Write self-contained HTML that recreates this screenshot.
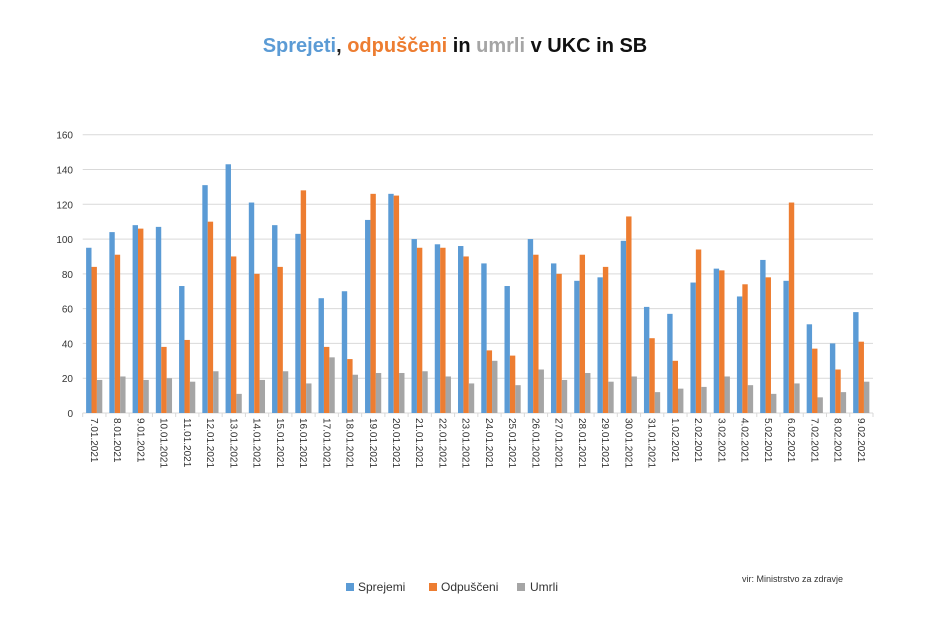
<!DOCTYPE html>
<html><head><meta charset="utf-8"><style>
body{margin:0;background:#fff;}
svg text{font-family:"Liberation Sans","DejaVu Sans",sans-serif;}
</style></head><body>
<svg id="c" width="940" height="627" xmlns="http://www.w3.org/2000/svg">
<rect width="940" height="627" fill="#fff"/>
<text x="455" y="52" text-anchor="middle" font-size="20" font-weight="bold"><tspan fill="#5b9bd5">Sprejeti</tspan><tspan fill="#222">, </tspan><tspan fill="#ed7d31">odpuščeni</tspan><tspan fill="#111"> in </tspan><tspan fill="#a5a5a5">umrli</tspan><tspan fill="#111"> v UKC in SB</tspan></text>
<g id="g"></g>
<rect x="346" y="583" width="8" height="8" fill="#5b9bd5"/><text x="358" y="591" font-size="12" fill="#333">Sprejemi</text>
<rect x="429" y="583" width="8" height="8" fill="#ed7d31"/><text x="441" y="591" font-size="12" fill="#333">Odpuščeni</text>
<rect x="517" y="583" width="8" height="8" fill="#a5a5a5"/><text x="530" y="591" font-size="12" fill="#333">Umrli</text>
<text x="742" y="582" font-size="9" fill="#333">vir: Ministrstvo za zdravje</text>
</svg>
<script>
var S=[95,104,108,107,73,131,143,121,108,103,66,70,111,126,100,97,96,86,73,100,86,76,78,99,61,57,75,83,67,88,76,51,40,58];
var O=[84,91,106,38,42,110,90,80,84,128,38,31,126,125,95,95,90,36,33,91,80,91,84,113,43,30,94,82,74,78,121,37,25,41];
var U=[19,21,19,20,18,24,11,19,24,17,32,22,23,23,24,21,17,30,16,25,19,23,18,21,12,14,15,21,16,11,17,9,12,18];
var L=[];for(var d=7;d<=31;d++)L.push(d+".01.2021");for(var d=1;d<=9;d++)L.push(d+".02.2021");
var x0=82.7,x1=873,y0=413,k=(413-134.7)/160,st=(x1-x0)/34,h="";
for(var v=0;v<=160;v+=20){var y=y0-v*k;if(v>0)h+='<line x1="'+x0+'" x2="'+x1+'" y1="'+y+'" y2="'+y+'" stroke="#d9d9d9" stroke-width="1"/>';h+='<text x="73" y="'+(y+4)+'" text-anchor="end" font-size="10" fill="#333">'+v+'</text>';}
h+='<line x1="'+x0+'" x2="'+x1+'" y1="'+y0+'" y2="'+y0+'" stroke="#d9d9d9"/>';
var C=["#5b9bd5","#ed7d31","#a5a5a5"],D=[S,O,U];
for(var i=0;i<34;i++){var gx=x0+i*st;h+='<line x1="'+gx+'" x2="'+gx+'" y1="'+y0+'" y2="'+(y0+4)+'" stroke="#d9d9d9"/>';
for(var j=0;j<3;j++){var v=D[j][i]*k;h+='<rect x="'+(gx+3.4+j*5.4)+'" y="'+(y0-v)+'" width="5.4" height="'+v+'" fill="'+C[j]+'"/>';}
var cx=gx+st/2;h+='<text transform="translate('+(cx-3.5)+',418) rotate(90)" font-size="10" fill="#333">'+L[i]+'</text>';}
h+='<line x1="'+x1+'" x2="'+x1+'" y1="'+y0+'" y2="'+(y0+4)+'" stroke="#d9d9d9"/>';
document.getElementById("g").innerHTML=h;
</script>
</body></html>
